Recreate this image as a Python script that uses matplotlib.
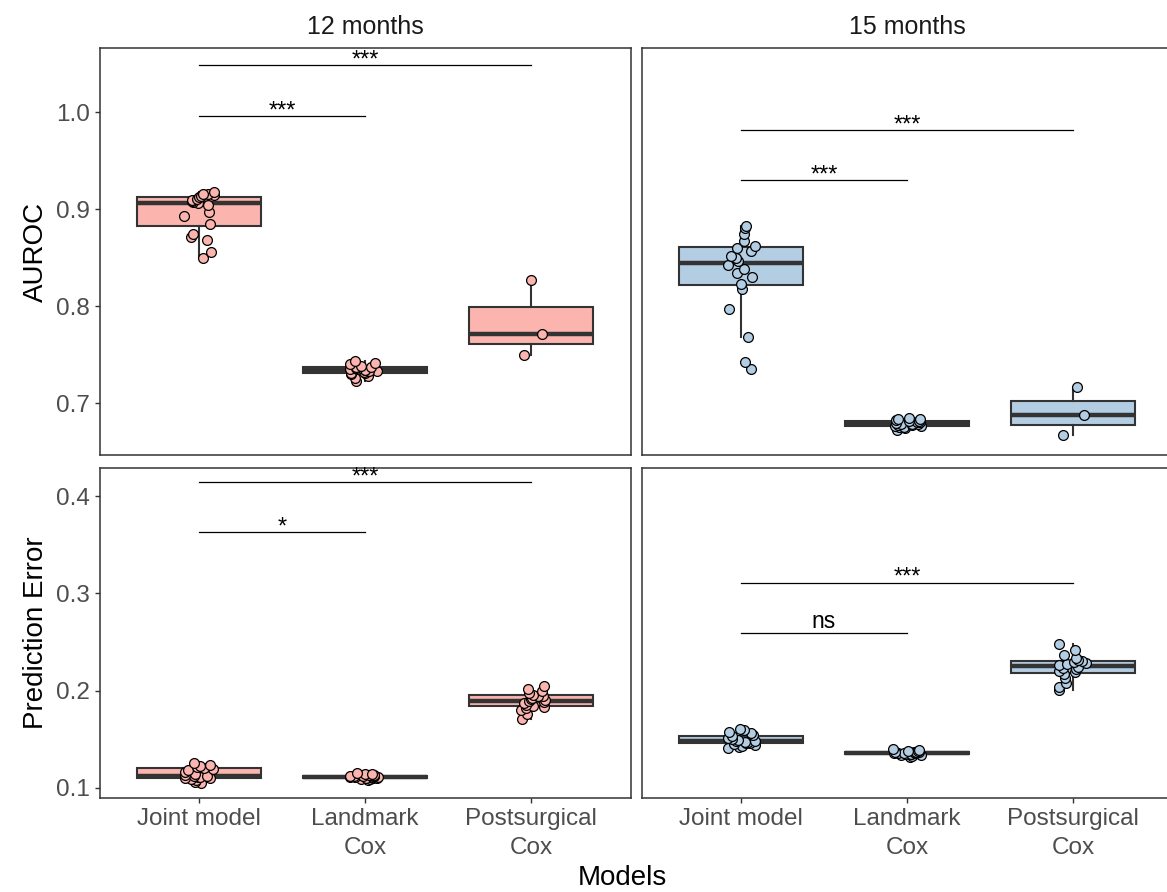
import numpy as np
import matplotlib
matplotlib.use("Agg")
import matplotlib.pyplot as plt

plt.rcParams['font.family'] = ['Liberation Sans', 'DejaVu Sans']

models = ["Joint model", "Landmark\nCox", "Postsurgical\nCox"]
periods = ["12 months", "15 months"]
metrics = ["AUROC", "Prediction Error"]

# AUROC, 12 months
auroc_12_joint = [0.850, 0.856, 0.868, 0.871, 0.874, 0.885, 0.893, 0.897, 0.904, 0.906,
                  0.907, 0.908, 0.909, 0.910, 0.912, 0.913, 0.914, 0.915, 0.915, 0.918]
auroc_12_landmark = [0.723, 0.726, 0.728, 0.730, 0.731, 0.731, 0.732, 0.733, 0.733, 0.734,
                     0.734, 0.735, 0.735, 0.736, 0.737, 0.737, 0.738, 0.740, 0.741, 0.743]
auroc_12_post = [0.750, 0.771, 0.827]

# AUROC, 15 months
auroc_15_joint = [0.735, 0.742, 0.768, 0.797, 0.818, 0.823, 0.830, 0.834, 0.838, 0.842,
                  0.846, 0.849, 0.852, 0.857, 0.860, 0.862, 0.867, 0.874, 0.880, 0.883]
auroc_15_landmark = [0.672, 0.674, 0.675, 0.675, 0.676, 0.676, 0.677, 0.677, 0.678, 0.678,
                     0.678, 0.679, 0.680, 0.680, 0.681, 0.681, 0.682, 0.683, 0.684, 0.685]
auroc_15_post = [0.667, 0.688, 0.716]

# Prediction error, 12 months
pe_12_joint = [0.105, 0.106, 0.108, 0.109, 0.110, 0.110, 0.111, 0.111, 0.112, 0.112,
               0.113, 0.114, 0.116, 0.118, 0.120, 0.121, 0.122, 0.123, 0.124, 0.126]
pe_12_landmark = [0.108, 0.109, 0.109, 0.110, 0.110, 0.110, 0.111, 0.111, 0.111, 0.111,
                  0.112, 0.112, 0.112, 0.112, 0.112, 0.113, 0.113, 0.114, 0.114, 0.115]
pe_12_post = [0.171, 0.176, 0.180, 0.182, 0.183, 0.184, 0.185, 0.187, 0.188, 0.189,
              0.190, 0.191, 0.192, 0.194, 0.195, 0.196, 0.198, 0.200, 0.202, 0.205]

# Prediction error, 15 months
pe_15_joint = [0.141, 0.142, 0.143, 0.144, 0.145, 0.146, 0.146, 0.147, 0.147, 0.148,
               0.148, 0.149, 0.150, 0.151, 0.153, 0.154, 0.156, 0.158, 0.160, 0.161]
pe_15_landmark = [0.132, 0.133, 0.134, 0.134, 0.135, 0.135, 0.135, 0.136, 0.136, 0.136,
                  0.136, 0.136, 0.137, 0.137, 0.137, 0.137, 0.138, 0.138, 0.139, 0.140]
pe_15_post = [0.201, 0.204, 0.208, 0.213, 0.217, 0.219, 0.220, 0.222, 0.223, 0.224,
              0.226, 0.227, 0.228, 0.229, 0.230, 0.232, 0.234, 0.237, 0.242, 0.248]

# significance brackets: (group a, group b, y, label)
sig_auroc_12 = [(1, 2, 0.996, "***"), (1, 3, 1.048, "***")]
sig_auroc_15 = [(1, 2, 0.930, "***"), (1, 3, 0.981, "***")]
sig_pe_12 = [(1, 2, 0.363, "*"), (1, 3, 0.4145, "***")]
sig_pe_15 = [(1, 2, 0.259, "ns"), (1, 3, 0.311, "***")]

y_ticks_auroc = [0.7, 0.8, 0.9, 1.0]
y_ticks_pe = [0.1, 0.2, 0.3, 0.4]

colors = {"12 months": "#FBB4AE", "15 months": "#B3CDE3"}
edge = "#333333"

panels = [
    (0, 0, [auroc_12_joint, auroc_12_landmark, auroc_12_post], sig_auroc_12),
    (0, 1, [auroc_15_joint, auroc_15_landmark, auroc_15_post], sig_auroc_15),
    (1, 0, [pe_12_joint, pe_12_landmark, pe_12_post], sig_pe_12),
    (1, 1, [pe_15_joint, pe_15_landmark, pe_15_post], sig_pe_15),
]

W, H = 1167, 892
fig = plt.figure(figsize=(W / 100, H / 100), dpi=100)

col_px = [(99.5, 630.5), (641.5, 1172.5)]
row_px = [(48, 455), (467.5, 798)]
ylims = [(0.6464, 1.066), (0.0897, 0.4293)]

rng = np.random.default_rng(7)

for r, c, groups, sigs in panels:
    x0, x1 = col_px[c]
    y0, y1 = row_px[r]
    ax = fig.add_axes([x0 / W, 1 - y1 / H, (x1 - x0) / W, (y1 - y0) / H])
    fill = colors[periods[c]]
    pos = np.arange(1, len(models) + 1)
    ax.boxplot(groups, positions=pos, widths=0.75, patch_artist=True,
               showfliers=False, showcaps=False, whis=1.5,
               boxprops=dict(facecolor=fill, edgecolor=edge, linewidth=1.5),
               whiskerprops=dict(color=edge, linewidth=1.5),
               medianprops=dict(color=edge, linewidth=3.2, solid_capstyle="butt"),
               zorder=2)
    for i, vals in enumerate(groups):
        jit = rng.uniform(-0.09, 0.09, len(vals))
        ax.scatter(pos[i] + jit, vals, s=50, facecolor=fill, edgecolor="black",
                   linewidth=0.9, zorder=3)
    for a, b, y, lab in sigs:
        ax.plot([a, b], [y, y], color="black", linewidth=0.9, zorder=4)
        if lab == "ns":
            ax.annotate(lab, ((a + b) / 2, y), xytext=(0, 3.5), textcoords="offset points",
                        ha="center", va="baseline", fontsize=16.5, color="black")
        else:
            ax.annotate(lab, ((a + b) / 2, y), xytext=(0, -1.0), textcoords="offset points",
                        ha="center", va="baseline", fontsize=17, color="black")
    ax.set_xlim(0.4, 3.6)
    ax.set_ylim(*ylims[r])
    for s in ax.spines.values():
        s.set_color(edge)
        s.set_linewidth(1.1)
    if c == 1:
        ax.spines["right"].set_visible(False)
    ax.tick_params(colors=edge, length=3.5, width=1.0, labelcolor="#4D4D4D",
                   labelsize=17.5)
    if r == 1:
        ax.set_xticks(pos)
        ax.set_xticklabels(models, linespacing=1.4)
    else:
        ax.set_xticks([])
    if c == 0:
        yt = y_ticks_auroc if r == 0 else y_ticks_pe
        ax.set_yticks(yt)
        ax.set_yticklabels([f"{v:.1f}" for v in yt])
        ax.set_ylabel(metrics[r], fontsize=20, color="black", labelpad=5)
    else:
        ax.set_yticks([])
    if r == 0:
        ax.set_title(periods[c], fontsize=18, color="#1A1A1A", pad=10)

fig.text(622 / W, 1 - 878 / H, "Models", ha="center", va="center", fontsize=20)

fig.savefig("out.png", dpi=100)
